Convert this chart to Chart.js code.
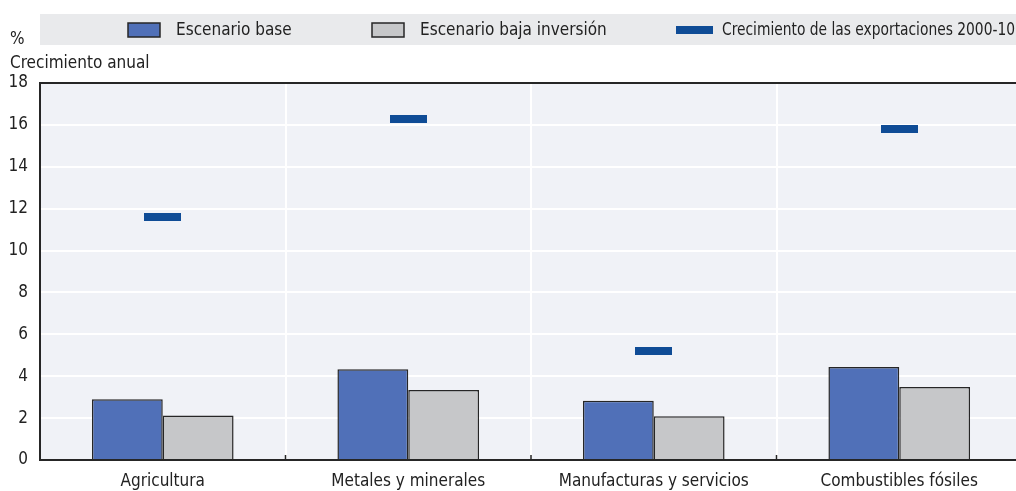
<!DOCTYPE html>
<html>
<head>
<meta charset="utf-8">
<script src="https://cdn.jsdelivr.net/npm/chart.js@4/dist/chart.umd.min.js"></script>
<style>
  html, body { margin: 0; padding: 0; background: #fff; overflow: hidden; }
  #wrap { width: 1026px; height: 491px; }
</style>
</head>
<body>
<div id="wrap"><canvas id="grafico"></canvas></div>
<script>
const categorias = ['Agricultura', 'Metales y minerales', 'Manufacturas y servicios', 'Combustibles fósiles'];
const escenarioBase = [2.9, 4.33, 2.83, 4.44];
const bajaInversion = [2.13, 3.34, 2.09, 3.49];
const exportaciones = [11.6, 16.3, 5.2, 15.8];
const etiquetas = ['Escenario base', 'Escenario baja inversión', 'Crecimiento de las exportaciones 2000-10'];
const ticksY = [0, 2, 4, 6, 8, 10, 12, 14, 16, 18];

const FONT = "'DejaVu Sans Condensed', 'Liberation Sans', sans-serif";
const azul = '#5070b8';
const gris = '#c6c7c9';
const marcador = '#0f4c96';
const borde = '#262626';

// marker for the exports series
const marca = document.createElement('canvas');
marca.width = 37;
marca.height = 8;
const mctx = marca.getContext('2d');
mctx.fillStyle = marcador;
mctx.fillRect(0, 0, 37, 8);

// band, legend, axis title, top frame
const extras = {
  id: 'extras',
  beforeDraw(chart) {
    const ctx = chart.ctx, a = chart.chartArea;
    ctx.save();
    ctx.fillStyle = '#f0f2f7';
    ctx.fillRect(a.left, a.top, a.right - a.left, a.bottom - a.top);
    ctx.fillStyle = '#e9eaec';
    ctx.fillRect(a.left, 14, chart.width - a.left, 31);
    ctx.restore();
  },
  afterDraw(chart) {
    const ctx = chart.ctx, a = chart.chartArea;
    ctx.save();
    // top frame line
    ctx.strokeStyle = borde;
    ctx.lineWidth = 2;
    ctx.beginPath();
    ctx.moveTo(a.left, a.top);
    ctx.lineTo(a.right, a.top);
    ctx.stroke();
    // small ticks between categories
    const xs = chart.scales.x;
    ctx.lineWidth = 1.5;
    for (let i = 0; i < categorias.length - 1; i++) {
      const px = (xs.getPixelForTick(i) + xs.getPixelForTick(i + 1)) / 2;
      ctx.beginPath();
      ctx.moveTo(px, a.bottom);
      ctx.lineTo(px, a.bottom - 5);
      ctx.stroke();
    }
    // axis title
    ctx.fillStyle = '#222';
    ctx.font = '17px ' + FONT;
    ctx.textBaseline = 'middle';
    ctx.textAlign = 'left';
    ctx.fillText('%', 10, 40);
    ctx.fillText('Crecimiento anual', 10, 64);
    // legend: bars first, then the marker
    const orden = [1, 2, 0];
    const posX = [128, 372, 676];
    const y = 30;
    orden.forEach(function(idx, k) {
      const ds = chart.data.datasets[idx];
      let x = posX[k];
      if (ds.type === 'line') {
        ctx.drawImage(marca, x, y - 4);
        x += 37 + 9;
      } else {
        ctx.fillStyle = ds.backgroundColor;
        ctx.fillRect(x, y - 7, 32, 14);
        ctx.strokeStyle = borde;
        ctx.lineWidth = 1.5;
        ctx.strokeRect(x, y - 7, 32, 14);
        x += 32 + 16;
      }
      ctx.fillStyle = '#222';
      ctx.font = '17px ' + FONT;
      ctx.fillText(ds.label, x, y + 1, 1015 - x);
    });
    ctx.restore();
  }
};

new Chart(document.getElementById('grafico'), {
  type: 'bar',
  data: {
    labels: categorias,
    datasets: [
      {
        type: 'line',
        label: etiquetas[2],
        data: exportaciones,
        showLine: false,
        pointStyle: marca,
        pointHoverRadius: 0,
        borderColor: marcador,
        backgroundColor: marcador
      },
      {
        label: etiquetas[0],
        data: escenarioBase,
        backgroundColor: azul,
        borderColor: borde,
        borderWidth: 1.5,
        categoryPercentage: 0.577,
        barPercentage: 1
      },
      {
        label: etiquetas[1],
        data: bajaInversion,
        backgroundColor: gris,
        borderColor: borde,
        borderWidth: 1.5,
        categoryPercentage: 0.577,
        barPercentage: 1
      }
    ]
  },
  options: {
    responsive: true,
    maintainAspectRatio: false,
    animation: false,
    layout: { padding: { top: 83, right: 0, left: 0, bottom: 0 } },
    plugins: {
      legend: { display: false },
      tooltip: { enabled: false }
    },
    scales: {
      x: {
        grid: { color: '#ffffff', lineWidth: 2, drawTicks: false, offset: true },
        border: { color: borde, width: 2 },
        ticks: { color: '#222', padding: 11, font: { family: FONT, size: 17 } },
        afterFit: function(s) { s.height = 31; }
      },
      y: {
        min: 0,
        max: 18,
        afterBuildTicks: function(s) { s.ticks = ticksY.map(function(v) { return { value: v }; }); },
        grid: { color: '#ffffff', lineWidth: 2, drawTicks: false },
        border: { color: borde, width: 2 },
        ticks: { color: '#222', padding: 12, font: { family: FONT, size: 17 } },
        afterFit: function(s) { s.width = 40; }
      }
    }
  },
  plugins: [extras]
});
</script>
</body>
</html>
